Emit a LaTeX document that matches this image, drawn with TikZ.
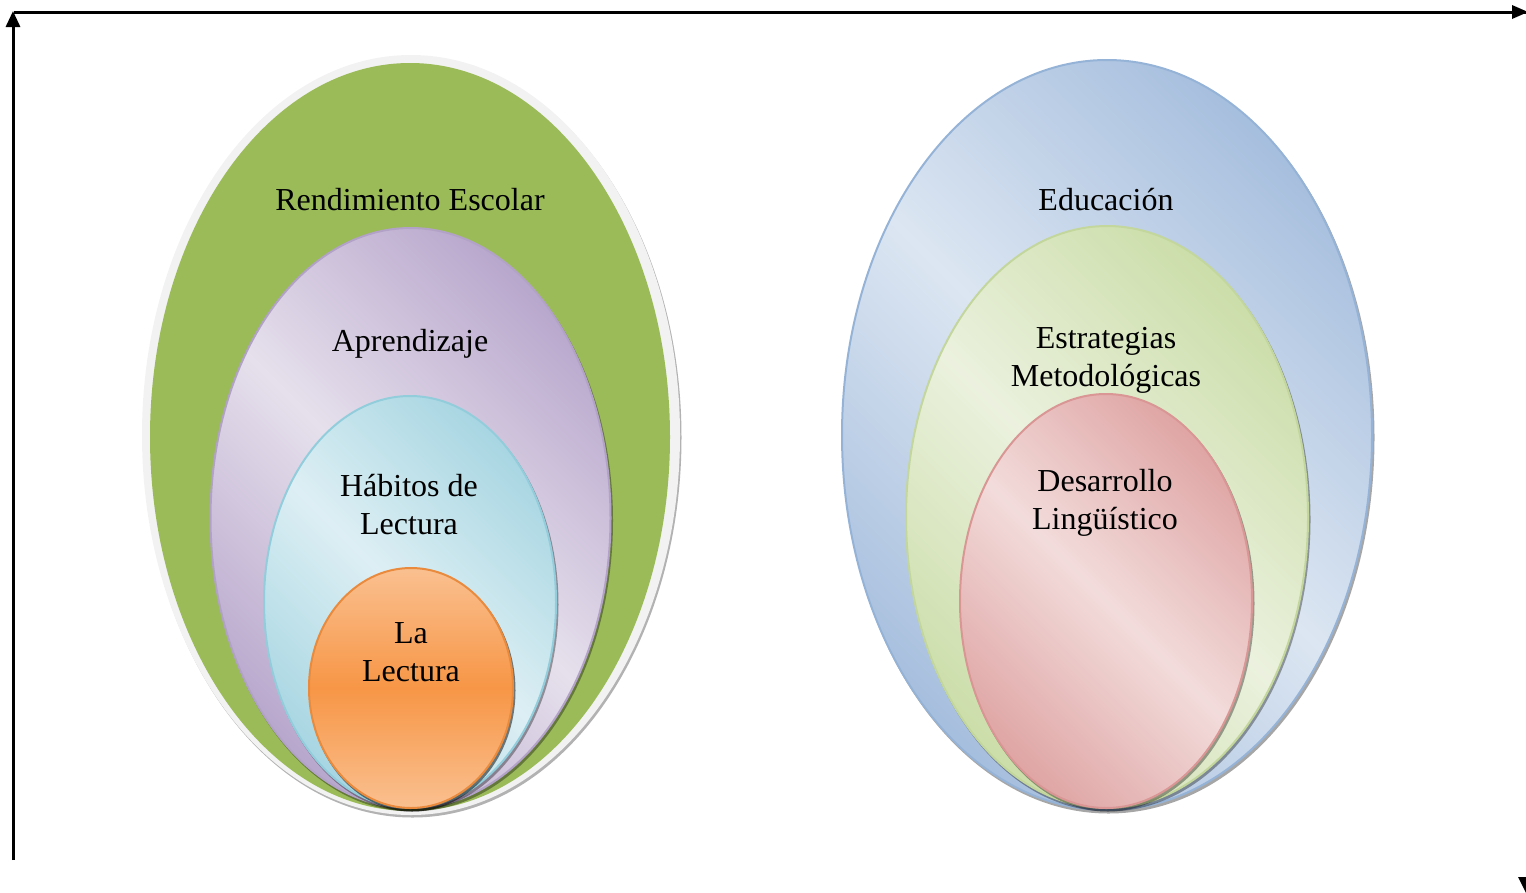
\documentclass[tikz,border=0pt]{standalone}
\usepackage{fontspec}
\setmainfont{Liberation Serif}
\usetikzlibrary{shapes.geometric,arrows.meta}
\definecolor{rimgray}{HTML}{F2F2F2}
\definecolor{olgreen}{HTML}{9BBB59}
\definecolor{purD}{HTML}{B9A8CD}
\definecolor{purL}{HTML}{E6E0EC}
\definecolor{purS}{HTML}{B3A2C7}
\definecolor{cyD}{HTML}{A8D6E2}
\definecolor{cyL}{HTML}{DDEFF4}
\definecolor{cyS}{HTML}{92CDDC}
\definecolor{orL}{HTML}{FAC090}
\definecolor{orM}{HTML}{F79646}
\definecolor{orS}{HTML}{E98A3C}
\definecolor{bluD}{HTML}{A7BFDE}
\definecolor{bluL}{HTML}{DCE6F2}
\definecolor{bluS}{HTML}{95B3D7}
\definecolor{grnD}{HTML}{CCDEAA}
\definecolor{grnL}{HTML}{EBF1DE}
\definecolor{grnS}{HTML}{C3D69B}
\definecolor{pnkD}{HTML}{DFA6A5}
\definecolor{pnkL}{HTML}{F2DCDB}
\definecolor{pnkS}{HTML}{D99694}
\tikzset{
  egg/.style={ellipse, inner sep=0pt, line width=2pt},
  eggshadow/.style={ellipse, inner sep=0pt, fill=black, fill opacity=0.35},
  diag/.style n args={2}{shade, shading=axis, top color=#1, bottom color=#1, middle color=#2, shading angle=135},
  lbl/.style={align=center, font=\fontsize{32}{38}\selectfont, inner sep=0pt},
  axisline/.style={line width=3pt, -{Triangle[length=16pt,width=14pt]}}
}
\begin{document}
\begin{tikzpicture}[x=1pt,y=-1pt]
\useasboundingbox (0,0) rectangle (1526,892);
% axes
\coordinate (o) at (13,860);
\coordinate (ytop) at (13,12);
\coordinate (hl) at (14,12);
\coordinate (hr) at (1526,12);
\draw[line width=3pt] (hl) -- (hr);
\draw[axisline, shorten >=-1pt] (o) -- (ytop);
\fill (1512,12) -- ++(0,-7) -- (1528,12) -- (1512,19) -- cycle;
\fill (1518,877) -- (1527,877) -- (1527,895) -- cycle;
% left set
\node[eggshadow, minimum width=538, minimum height=760, fill opacity=0.3] (rimsh) at (412.5,437.5) {};
\node[ellipse, inner sep=0pt, minimum width=538, minimum height=760, fill=rimgray] (rim) at (411,435) {};
\node[ellipse, inner sep=0pt, minimum width=520, minimum height=748, fill=olgreen] (rend) at (410,437) {};
\node[eggshadow, minimum width=402, minimum height=582] (aprsh) at (412,520.5) {};
\node[egg, minimum width=400, minimum height=580, draw=purS, diag={purD}{purL}] (apr) at (410.5,518) {};
\node[eggshadow, minimum width=294, minimum height=414] (habsh) at (411.5,604.5) {};
\node[egg, minimum width=292, minimum height=412, draw=cyS, diag={cyD}{cyL}] (hab) at (410,602) {};
\node[eggshadow, minimum width=206, minimum height=242, fill opacity=0.5] (lecsh) at (412.5,690.5) {};
\node[egg, minimum width=204, minimum height=240, draw=orS,
  shade, shading=axis, top color=orL, bottom color=orL, middle color=orM] (lec) at (411,688) {};
\node[lbl] (t1) at (410,200) {Rendimiento Escolar};
\node[lbl] (t2) at (410,344) {Aprendizaje};
\node[lbl] (t3) at (409,505) {Hábitos de\\Lectura};
\node[lbl] (t4) at (411,652) {La\\Lectura};
% right set
\node[eggshadow, minimum width=532, minimum height=752] (edush) at (1108.5,437.5) {};
\node[egg, minimum width=530, minimum height=750, draw=bluS, diag={bluD}{bluL}] (edu) at (1107,435) {};
\node[eggshadow, minimum width=404, minimum height=584] (estsh) at (1108.5,519.5) {};
\node[egg, minimum width=402, minimum height=582, draw=grnS, diag={grnD}{grnL}] (est) at (1107,517) {};
\node[eggshadow, minimum width=294, minimum height=416] (dessh) at (1107.5,603.5) {};
\node[egg, minimum width=292, minimum height=414, draw=pnkS, diag={pnkD}{pnkL}] (des) at (1106,601) {};
\node[lbl] (t5) at (1106,200) {Educación};
\node[lbl] (t6) at (1106,360) {Estrategias\\Metodológicas};
\node[lbl] (t7) at (1105,503) {Desarrollo\\Lingüístico};
\end{tikzpicture}
\end{document}
